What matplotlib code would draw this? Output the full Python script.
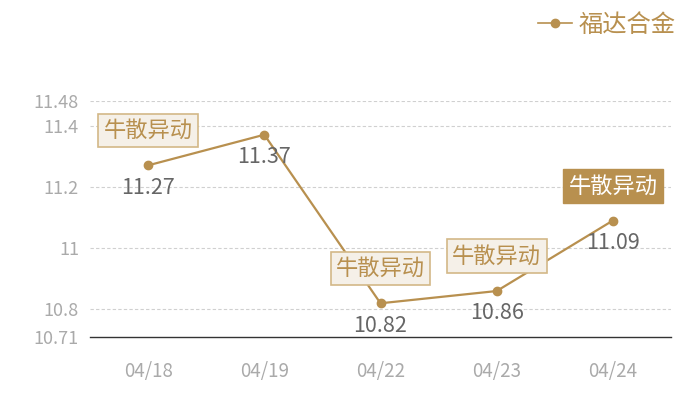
import matplotlib
matplotlib.use("Agg")
import matplotlib.pyplot as plt
from matplotlib.lines import Line2D

plt.rcParams['font.family'] = ['Noto Sans CJK SC', 'DejaVu Sans']

# data
dates = ["04/18", "04/19", "04/22", "04/23", "04/24"]
prices = [11.27, 11.37, 10.82, 10.86, 11.09]
tags = ["牛散异动", None, "牛散异动", "牛散异动", "牛散异动"]
tag_active = [False, False, False, False, True]
yticks = [10.71, 10.8, 11, 11.2, 11.4, 11.48]
ytick_labels = ["10.71", "10.8", "11", "11.2", "11.4", "11.48"]
series_name = "福达合金"

gold = "#b8904f"
dpi = 100
fig = plt.figure(figsize=(7, 4), dpi=dpi)
ax = fig.add_axes([90 / 700, 1 - 337 / 400, 581 / 700, 236 / 400])

x = list(range(len(dates)))
ax.plot(x, prices, color=gold, lw=1.6, marker="o", ms=6, zorder=3)

ax.set_xlim(-0.5, len(dates) - 0.5)
ax.set_ylim(10.71, 11.48)
ax.set_xticks(x)
ax.set_xticklabels(dates)
ax.set_yticks(yticks)
ax.set_yticklabels(ytick_labels)
ax.tick_params(axis="both", length=0, labelsize=13, colors="#aaaaaa")
ax.tick_params(axis="x", labelsize=13.5, pad=17)
ax.tick_params(axis="y", pad=8)

for yv in yticks[1:]:
    ax.axhline(yv, color="#d0d0d0", lw=0.8, ls=(0, (3, 2)), zorder=1)

for s in ["top", "right", "left"]:
    ax.spines[s].set_visible(False)
ax.spines["bottom"].set_color("#333333")
ax.spines["bottom"].set_linewidth(1.0)

# value labels
for xi, p in zip(x, prices):
    ax.annotate(f"{p:g}", (xi, p), xytext=(0, -16), textcoords="offset points",
                ha="center", va="center", fontsize=15.5, color="#666666", zorder=4)

# tag boxes
for xi, p, t, act in zip(x, prices, tags, tag_active):
    if t is None:
        continue
    if act:
        box = dict(boxstyle="square,pad=0.24", fc=gold, ec=gold, lw=1)
        tc = "white"
    else:
        box = dict(boxstyle="square,pad=0.24", fc="#f5f0e8", ec="#d3b887", lw=1.2)
        tc = gold
    ax.annotate(t, (xi, p), xytext=(0, 25), textcoords="offset points",
                ha="center", va="center", fontsize=16, color=tc, bbox=box, zorder=5)

# legend
handle = Line2D([], [], color=gold, marker="o", ms=6, lw=1.2)
fig.legend([handle], [series_name], loc="upper right", bbox_to_anchor=(0.997, 1.025),
           frameon=False, fontsize=17.5, labelcolor=gold, handlelength=1.4,
           handletextpad=0.3)

fig.savefig("out.png", dpi=dpi)
